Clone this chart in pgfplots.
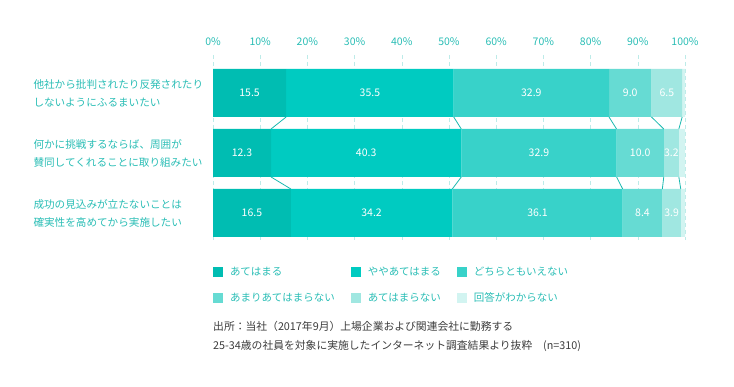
\documentclass[border=0pt]{standalone}
\usepackage{pgfplots}
\pgfplotsset{compat=1.18}
\usepackage{fontspec}
\setmainfont{Noto Sans CJK JP}
\definecolor{c1}{HTML}{00BDB2}
\definecolor{c2}{HTML}{00CBC1}
\definecolor{c3}{HTML}{38D2C9}
\definecolor{c4}{HTML}{66DBD3}
\definecolor{c5}{HTML}{A0E7E1}
\definecolor{c6}{HTML}{D2F4F1}
\definecolor{tealtxt}{HTML}{29BDB5}
\definecolor{gridc}{HTML}{BDEBE8}
\definecolor{conn}{HTML}{1AB8AF}
\definecolor{srctxt}{HTML}{3C3C3C}
\pgfplotsset{
  sq/.style={legend image code/.code={\fill[##1] (0pt,-5pt) rectangle (10pt,5pt); \path (15pt,0pt);}},
  lbl/.style={nodes near coords={\pgfmathprintnumber[fixed,fixed zerofill,precision=1,assume math mode=true]{\pgfplotspointmeta}},
    every node near coord/.append style={anchor=center, text=white, font=\fontsize{10.5}{12}\selectfont}},
}
\begin{document}
\begin{tikzpicture}[x=1pt,y=1pt]
\useasboundingbox (0,0) rectangle (734,387);
\begin{axis}[
  at={(213pt,147pt)}, anchor=south west,
  scale only axis, width=472pt, height=185pt,
  xbar stacked, bar width=0.8,
  xmin=0, xmax=100, ymin=-0.633, ymax=2.45, y dir=reverse,
  xtick={0,10,...,100},
  xticklabels={0\%,10\%,20\%,30\%,40\%,50\%,60\%,70\%,80\%,90\%,100\%},
  xticklabel pos=upper,
  xticklabel style={font=\fontsize{10.5}{12}\selectfont, text=tealtxt, yshift=6pt},
  ytick={0,1,2},
  yticklabels={{他社から批判されたり反発されたり\\しないようにふるまいたい},{何かに挑戦するならば、周囲が\\賛同してくれることに取り組みたい},{成功の見込みが立たないことは\\確実性を高めてから実施したい}},
  yticklabel style={anchor=west, align=left, xshift=-183pt, font=\fontsize{10.6}{18}\selectfont, text=tealtxt},
  xmajorgrids, grid style={gridc, dash pattern=on 4pt off 3pt, line width=0.6pt},
  major tick length=0, axis line style={draw=none},
  legend columns=3, legend cell align=left,
  legend style={at={(0,-0.136)}, anchor=north west, draw=none, fill=none,
    font=\fontsize{10.5}{12}\selectfont, text=tealtxt, inner sep=0pt, row sep=11pt,
    /tikz/every even column/.append style={column sep=14pt}},
]
\addplot[fill=c1, draw=none, sq, lbl] coordinates {(15.5,0) (12.3,1) (16.5,2)};
\addplot[fill=c2, draw=none, sq, lbl] coordinates {(35.5,0) (40.3,1) (34.2,2)};
\addplot[fill=c3, draw=none, sq, lbl] coordinates {(32.9,0) (32.9,1) (36.1,2)};
\addplot[fill=c4, draw=none, sq, lbl] coordinates {(9.0,0) (10.0,1) (8.4,2)};
\addplot[fill=c5, draw=none, sq, lbl] coordinates {(6.5,0) (3.2,1) (3.9,2)};
\addplot[fill=c6, draw=none, sq] coordinates {(0.6,0) (1.3,1) (0.9,2)};
\legend{あてはまる,ややあてはまる,どちらともいえない,あまりあてはまらない,あてはまらない,回答がわからない}
\end{axis}
\begin{axis}[
  at={(213pt,147pt)}, anchor=south west,
  scale only axis, width=472pt, height=185pt,
  xmin=0, xmax=100, ymin=-0.633, ymax=2.45, y dir=reverse,
  hide axis, unbounded coords=jump,
]
\addplot[conn, line width=0.8pt, mark=none] coordinates {
 (15.5,0.4) (12.3,0.6) (nan,nan)
 (51.0,0.4) (52.6,0.6) (nan,nan)
 (83.9,0.4) (85.5,0.6) (nan,nan)
 (92.9,0.4) (95.5,0.6) (nan,nan)
 (99.4,0.4) (98.7,0.6) (nan,nan)
 (12.3,1.4) (16.5,1.6) (nan,nan)
 (52.6,1.4) (50.7,1.6) (nan,nan)
 (85.5,1.4) (86.8,1.6) (nan,nan)
 (95.5,1.4) (95.2,1.6) (nan,nan)
 (98.7,1.4) (99.1,1.6)
};
\end{axis}
\node[anchor=west, inner sep=0pt, font=\fontsize{10.8}{12}\selectfont, text=srctxt] at (213,61) {出所：当社（2017年9月）上場企業および関連会社に勤務する};
\node[anchor=west, inner sep=0pt, font=\fontsize{10.8}{12}\selectfont, text=srctxt] at (213,41) {25-34歳の社員を対象に実施したインターネット調査結果より抜粋　(n=310)};
\end{tikzpicture}
\end{document}
